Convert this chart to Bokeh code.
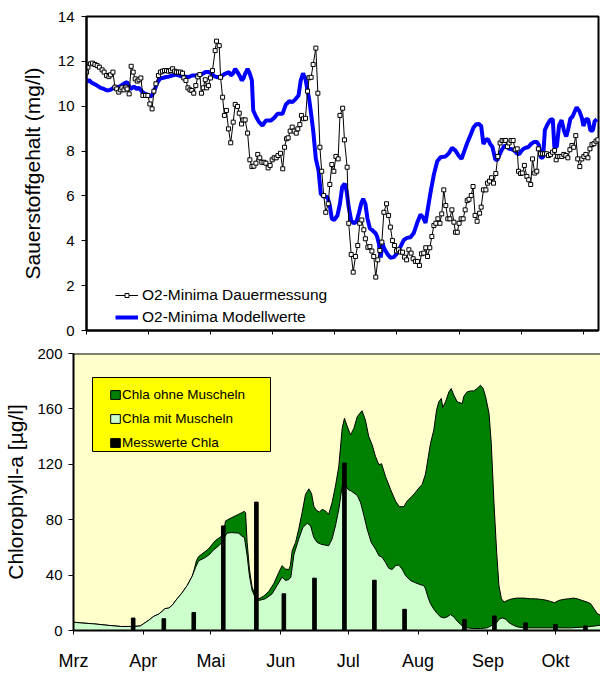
import numpy as np
from bokeh.plotting import figure
from bokeh.layouts import column, row
from bokeh.models import Range1d, FixedTicker, Legend, LegendItem, Span, BoxAnnotation, Spacer
from bokeh.embed import file_html
from bokeh.resources import INLINE

# Zeitachse: Tage ab 1. März
monat_tag = [0, 31, 61, 92, 122, 153, 184, 214]
monat_name = ["Mrz", "Apr", "Mai", "Jun", "Jul", "Aug", "Sep", "Okt"]

# O2-Minima Dauermessung (mg/l)
o2_mess_tag = [
    5.8, 6.4, 7.5, 8.4, 9.5, 10.5, 11.5, 12.7, 13.6, 14.7,
    15.7, 16.4, 17.5, 18.4, 19.2, 20.1, 20.9, 21.5, 22.4, 23.3,
    23.8, 24.7, 25.6, 26.5, 27.4, 28.3, 29.1, 29.9, 30.8, 32.0,
    33.0, 33.9, 34.9, 35.7, 36.6, 37.7, 38.6, 39.5, 40.4, 41.3,
    42.2, 43.1, 44.0, 44.9, 45.7, 46.6, 47.5, 48.4, 49.0, 49.9,
    50.8, 51.7, 52.5, 53.4, 54.3, 55.2, 56.1, 56.8, 57.6, 58.5,
    59.1, 59.9, 60.8, 61.7, 62.9, 63.5, 64.7, 65.3, 66.2, 67.0,
    67.9, 68.8, 69.8, 70.9, 71.8, 72.8, 73.6, 74.6, 75.3, 76.2,
    77.3, 78.3, 79.2, 80.1, 81.0, 81.8, 82.7, 83.6, 84.6, 85.4,
    86.4, 87.3, 88.2, 89.1, 90.0, 90.8, 91.9, 92.9, 93.7, 94.6,
    95.3, 96.2, 97.1, 98.0, 98.9, 99.6, 100.5, 101.2, 102.1, 103.0,
    103.9, 104.6, 105.5, 106.4, 107.6, 108.5, 109.4, 110.2, 111.1, 112.0,
    113.1, 113.8, 114.7, 115.6, 116.5, 117.5, 118.3, 119.5, 120.3, 121.5,
    122.2, 123.3, 124.2, 125.2, 126.2, 127.1, 128.0, 128.9, 129.6, 130.7,
    131.6, 132.5, 133.3, 134.2, 135.1, 136.0, 136.9, 137.8, 139.0, 139.9,
    140.7, 141.6, 142.5, 143.4, 144.3, 145.2, 146.1, 147.0, 147.9, 148.9,
    149.9, 150.8, 151.8, 152.7, 153.6, 154.5, 155.5, 156.4, 157.2, 158.2,
    159.1, 160.0, 160.9, 161.8, 162.7, 163.5, 164.4, 165.3, 166.2, 167.1,
    168.0, 168.9, 169.6, 170.4, 171.2, 172.1, 173.0, 173.9, 174.8, 175.6,
    176.6, 177.4, 178.3, 179.2, 180.3, 181.0, 182.0, 183.1, 183.8, 184.7,
    185.6, 186.5, 187.5, 188.4, 189.4, 190.3, 191.2, 191.9, 192.7, 193.4,
    194.3, 195.2, 196.1, 197.0, 197.6, 198.5, 199.3, 200.2, 201.3, 202.1,
    203.0, 203.8, 204.8, 205.7, 206.4, 207.3, 208.2, 209.1, 210.0, 210.9,
    211.8, 212.7, 213.6, 214.3, 215.0, 215.9, 216.8, 217.7, 218.6, 219.5,
    220.4, 221.3, 222.1, 223.0, 223.9, 224.8, 225.7, 226.6, 227.5, 228.4,
    229.3, 230.2, 231.1, 232.0, 232.8,
]
o2_mess = [
    11.52, 11.74, 11.89, 11.92, 11.86, 11.81, 11.74, 11.62, 11.52, 11.37,
    11.32, 11.40, 11.52, 10.85, 10.77, 10.63, 10.73, 10.82, 10.73, 10.85,
    10.77, 10.55, 11.78, 11.52, 11.22, 11.12, 11.18, 11.26, 10.48, 10.48,
    10.48, 10.10, 9.88, 10.67, 11.00, 11.37, 11.52, 11.56, 11.59, 11.59,
    11.56, 11.59, 11.67, 11.56, 11.52, 11.52, 11.52, 11.47, 11.26, 11.15,
    10.82, 10.73, 10.70, 10.58, 10.92, 11.31, 11.41, 10.58, 10.82, 11.18,
    10.82, 10.92, 11.26, 11.59, 12.48, 12.90, 12.70, 11.29, 10.40, 9.59,
    9.81, 8.99, 8.37, 9.29, 10.08, 9.99, 9.69, 9.21, 9.39, 9.39,
    8.80, 7.61, 7.31, 7.33, 7.46, 7.85, 7.70, 7.50, 7.50, 7.46,
    7.25, 7.36, 7.61, 7.70, 7.70, 7.80, 7.90, 7.21, 8.17, 8.55,
    8.59, 8.89, 9.07, 8.89, 8.80, 8.99, 9.18, 9.59, 9.44, 9.46,
    10.67, 11.27, 11.29, 11.86, 12.59, 10.58, 8.17, 7.10, 6.02, 5.27,
    5.65, 6.51, 7.40, 7.10, 7.76, 7.65, 9.59, 9.91, 8.50, 7.28,
    4.78, 3.39, 2.60, 3.30, 3.79, 4.78, 4.93, 4.49, 4.09, 3.71,
    3.74, 3.54, 3.30, 2.38, 3.15, 3.57, 3.94, 5.27, 5.65, 5.13,
    4.61, 4.01, 3.79, 3.55, 3.60, 3.50, 3.49, 3.27, 3.15, 3.60,
    3.45, 3.20, 3.08, 3.08, 2.90, 3.42, 3.45, 3.69, 3.30, 3.69,
    4.19, 4.68, 4.78, 4.98, 4.78, 5.20, 6.27, 5.57, 4.98, 4.98,
    5.38, 4.83, 4.38, 4.38, 4.78, 4.98, 4.98, 5.38, 5.79, 5.85,
    6.02, 6.42, 5.13, 4.87, 5.23, 5.50, 6.27, 6.27, 6.57, 6.66,
    6.81, 6.57, 7.00, 7.76, 8.36, 8.47, 8.47, 8.47, 8.20, 8.36,
    8.47, 8.47, 8.06, 8.10, 7.10, 7.00, 7.02, 7.36, 6.87, 6.72,
    6.51, 7.65, 7.02, 7.10, 8.10, 7.88, 7.88, 7.88, 7.88, 7.80,
    7.85, 7.95, 8.03, 7.61, 7.76, 7.76, 7.76, 7.85, 7.80, 7.70,
    8.06, 8.25, 8.17, 8.69, 7.65, 7.31, 7.65, 7.76, 7.85, 7.70,
    8.10, 8.29, 8.33, 8.44, 8.50,
]

# O2-Minima Modellwerte (mg/l)
o2_modell_tag = [
    5.8, 6.8, 7.8, 9.0, 10.5, 12.0, 13.5, 14.9, 16.4, 17.9,
    19.4, 20.6, 21.6, 22.6, 23.8, 24.6, 25.3, 26.1, 26.8, 28.0,
    29.0, 30.0, 31.2, 32.7, 34.2, 35.1, 36.0, 37.1, 38.3, 39.4,
    40.8, 42.3, 43.8, 45.3, 46.8, 48.2, 49.7, 51.2, 52.7, 54.2,
    55.6, 57.1, 58.6, 60.1, 61.1, 62.6, 64.0, 65.5, 66.8, 68.0,
    69.1, 69.8, 70.8, 71.8, 72.8, 73.8, 74.7, 75.5, 76.2, 77.3,
    78.3, 79.2, 79.8, 81.0, 82.4, 83.9, 85.4, 87.6, 89.1, 90.6,
    92.8, 94.3, 95.8, 97.2, 98.7, 99.9, 100.9, 101.9, 103.0, 104.6,
    105.6, 106.5, 107.6, 108.8, 109.8, 111.3, 112.8, 113.8, 114.7, 115.7,
    117.2, 118.3, 119.3, 120.4, 121.3, 122.2, 123.3, 124.5, 125.6, 126.7,
    127.7, 128.6, 129.6, 130.5, 131.6, 132.8, 134.1, 134.8, 135.6, 136.4,
    137.2, 137.8, 139.3, 140.7, 142.2, 143.7, 145.2, 146.7, 148.1, 149.6,
    151.1, 152.6, 154.1, 155.2, 156.3, 157.6, 158.6, 160.0, 161.5, 163.0,
    165.2, 166.6, 168.1, 169.6, 171.1, 172.3, 173.5, 174.8, 176.3, 177.6,
    178.8, 180.0, 181.0, 182.0, 183.1, 184.0, 185.0, 186.0, 187.3, 188.2,
    189.2, 190.2, 191.4, 192.4, 193.4, 194.6, 195.8, 196.8, 197.9, 198.8,
    199.8, 200.8, 202.0, 203.2, 204.4, 205.7, 206.6, 207.5, 208.5, 209.3,
    210.5, 211.8, 212.8, 213.5, 214.6, 215.6, 216.7, 217.8, 218.8, 219.6,
    220.6, 221.6, 222.4, 223.4, 224.6, 225.7, 226.4, 227.5, 228.5, 229.5,
    230.6, 231.4, 232.4,
]
o2_modell = [
    11.07, 11.18, 11.07, 11.00, 10.92, 10.82, 10.77, 10.70, 10.73, 10.82,
    10.85, 10.88, 10.95, 11.02, 11.07, 10.92, 10.77, 10.82, 10.88, 10.77,
    10.82, 10.70, 10.58, 10.52, 10.43, 10.52, 10.73, 11.03, 11.22, 11.26,
    11.29, 11.32, 11.37, 11.41, 11.37, 11.32, 11.32, 11.30, 11.37, 11.37,
    11.41, 11.44, 11.52, 11.52, 11.47, 11.33, 11.29, 11.32, 11.42, 11.48,
    11.52, 11.37, 11.45, 11.67, 11.52, 11.35, 11.15, 11.25, 11.44, 11.67,
    11.44, 11.15, 9.81, 9.54, 9.29, 9.14, 9.36, 9.36, 9.48, 9.66,
    9.66, 10.08, 10.22, 10.18, 10.33, 10.48, 11.15, 11.47, 11.22, 10.33,
    9.59, 8.84, 7.65, 7.13, 6.09, 5.97, 5.94, 5.57, 4.98, 4.93,
    5.13, 5.65, 6.40, 6.55, 6.20, 5.50, 4.90, 4.78, 4.85, 5.23,
    5.65, 5.87, 5.65, 5.00, 4.55, 4.46, 4.34, 4.19, 3.87, 3.25,
    3.90, 3.69, 3.42, 3.24, 3.27, 3.45, 3.74, 4.04, 4.13, 4.16,
    4.35, 4.80, 5.17, 5.05, 4.80, 5.60, 6.20, 6.95, 7.55, 7.73,
    7.76, 7.90, 8.14, 8.02, 7.78, 7.65, 8.00, 8.36, 8.72, 9.05,
    9.20, 9.21, 9.12, 8.32, 8.50, 8.54, 8.32, 8.18, 7.62, 7.60,
    7.85, 8.06, 8.25, 8.20, 8.10, 8.08, 8.02, 7.90, 7.86, 8.00,
    8.10, 8.15, 8.18, 8.32, 8.40, 8.41, 8.28, 7.70, 7.72, 8.95,
    9.20, 9.40, 9.42, 8.17, 8.20, 9.15, 9.38, 8.90, 8.65, 8.95,
    9.44, 9.54, 9.73, 9.95, 9.78, 9.48, 9.12, 9.42, 9.42, 8.92,
    8.92, 9.33, 9.42,
]

# Chlorophyll-a Modell mit Muscheln (µg/l)
chla_mit_tag = [
    0.0, 3.1, 9.0, 14.9, 20.9, 26.8, 29.7, 31.2, 33.4, 35.7,
    37.9, 39.4, 40.6, 42.3, 43.8, 46.0, 48.2, 50.5, 52.7, 54.2,
    55.6, 57.9, 60.1, 62.3, 64.5, 65.9, 68.1, 70.3, 73.3, 74.7,
    75.9, 77.1, 78.1, 79.3, 80.8, 82.3, 85.2, 88.2, 90.4, 92.6,
    94.1, 95.6, 96.5, 97.9, 100.0, 101.8, 103.8, 105.3, 106.7, 108.2,
    109.7, 111.9, 113.3, 114.8, 116.3, 117.8, 119.3, 120.4, 121.9, 123.4,
    126.0, 127.5, 129.0, 130.4, 132.2, 134.1, 135.6, 137.1, 138.5, 140.0,
    141.5, 143.0, 144.4, 145.9, 147.4, 149.6, 151.9, 154.1, 155.5, 156.3,
    157.4, 158.5, 160.0, 161.5, 163.0, 164.4, 165.9, 167.4, 168.9, 170.4,
    171.9, 173.3, 174.8, 177.7, 180.7, 183.7, 185.9, 187.9, 188.9, 190.4,
    192.0, 193.3, 195.3, 197.1, 200.0, 213.3, 220.7, 228.1, 234.0,
]
chla_mit = [
    6.0, 5.5, 4.8, 3.8, 2.9, 2.9, 3.3, 5.0, 7.4, 10.3,
    11.9, 13.9, 15.8, 16.2, 18.2, 22.9, 27.2, 32.5, 39.2, 45.6,
    50.4, 52.1, 54.5, 58.3, 61.2, 63.6, 70.3, 70.7, 70.3, 68.3,
    67.1, 54.0, 39.7, 28.9, 23.4, 21.7, 22.9, 26.5, 32.5, 38.5,
    36.1, 36.8, 38.5, 55.0, 66.0, 74.3, 77.4, 75.5, 67.1, 63.6,
    62.4, 61.6, 61.2, 66.0, 75.5, 87.5, 104.2, 106.6, 101.8, 100.6,
    97.5, 92.2, 82.7, 73.1, 63.6, 58.8, 54.0, 52.8, 49.2, 44.9,
    44.0, 46.8, 47.3, 44.4, 39.7, 36.1, 34.4, 33.0, 32.5, 30.1,
    24.1, 19.4, 15.3, 12.2, 9.8, 9.1, 9.8, 11.5, 9.8, 6.7,
    4.3, 2.6, 1.9, 1.4, 1.4, 1.9, 3.8, 5.7, 8.1, 9.1,
    8.1, 5.7, 3.8, 2.6, 1.9, 1.9, 1.9, 2.6, 3.8,
]

# Chlorophyll-a Modell ohne Muscheln (µg/l)
chla_ohne_tag = [
    0.0, 3.1, 9.0, 14.9, 20.9, 26.8, 29.7, 31.2, 33.4, 35.7,
    37.9, 39.4, 40.6, 42.3, 43.8, 46.0, 48.2, 50.5, 52.7, 53.6,
    54.6, 55.6, 57.0, 59.9, 62.9, 65.9, 66.8, 67.5, 70.3, 73.3,
    74.7, 75.9, 76.4, 77.1, 78.1, 79.3, 80.8, 82.3, 84.5, 86.7,
    88.9, 91.2, 92.6, 94.1, 95.6, 96.3, 97.1, 98.6, 100.0, 101.5,
    103.0, 104.5, 105.7, 106.7, 107.8, 109.2, 110.4, 111.9, 113.3, 114.8,
    116.3, 117.8, 119.3, 120.3, 121.5, 123.0, 124.5, 126.0, 128.1, 129.6,
    131.1, 132.6, 134.1, 135.6, 136.8, 138.5, 140.8, 143.0, 144.7, 146.7,
    148.1, 150.4, 151.9, 153.4, 154.8, 156.3, 157.5, 158.5, 160.0, 161.2,
    162.2, 163.3, 164.0, 165.2, 166.7, 167.7, 168.9, 170.4, 172.6, 173.3,
    174.8, 176.3, 177.7, 179.2, 180.7, 181.9, 183.0, 184.5, 185.5, 186.7,
    187.9, 188.9, 190.0, 191.2, 192.6, 194.8, 197.1, 200.0, 203.0, 205.2,
    207.4, 209.6, 211.8, 213.6, 215.5, 217.7, 219.9, 222.2, 223.7, 225.9,
    228.1, 229.6, 231.1, 232.6, 234.0,
]
chla_ohne = [
    6.0, 5.5, 4.8, 3.8, 2.9, 2.9, 3.3, 5.0, 7.4, 10.3,
    11.9, 13.9, 15.8, 16.2, 18.2, 22.9, 27.2, 32.5, 39.2, 44.0,
    50.5, 53.5, 55.2, 58.8, 64.8, 68.3, 72.0, 79.1, 81.5, 83.9,
    85.1, 86.0, 85.1, 63.6, 44.4, 31.3, 25.3, 22.9, 24.9, 28.2,
    33.7, 42.1, 46.8, 44.4, 44.0, 46.8, 57.6, 63.6, 73.1, 85.1,
    98.2, 102.3, 98.9, 89.8, 87.0, 85.5, 87.5, 86.3, 83.9, 92.2,
    104.2, 118.5, 146.0, 153.2, 147.7, 141.2, 146.0, 154.4, 158.7, 152.0,
    140.0, 134.1, 125.7, 119.7, 120.4, 111.4, 101.8, 93.4, 89.4, 89.4,
    93.4, 97.0, 99.9, 103.0, 105.4, 113.0, 125.0, 135.0, 144.8, 159.1,
    165.1, 167.5, 161.1, 165.1, 172.3, 174.7, 169.9, 165.1, 163.9, 169.0,
    172.3, 173.0, 173.0, 174.7, 177.1, 174.7, 168.7, 156.8, 135.2, 92.2,
    56.4, 32.5, 22.9, 20.5, 21.7, 22.9, 23.4, 23.4, 22.9, 22.9,
    22.5, 22.0, 21.0, 20.1, 21.7, 22.5, 22.9, 23.4, 22.9, 21.7,
    20.5, 19.4, 15.8, 12.2, 11.0,
]

# Messwerte Chlorophyll-a (µg/l)
mess_tag = [26.5, 40.1, 53.4, 66.5, 81.2, 93.4, 107.0, 120.3, 133.6, 147.0,
            173.6, 186.9, 200.7, 214.0, 227.3]
mess_chla = [9.0, 8.5, 13.0, 75.5, 92.7, 26.5, 37.8, 120.9, 36.3, 15.3,
             7.9, 10.5, 5.5, 4.3, 3.3]

FONT = "Liberation Sans"


def style_axes(p):
    for ax in p.axis:
        ax.axis_line_width = 2
        ax.axis_line_color = "black"
        ax.major_tick_line_color = "black"
        ax.major_tick_line_width = 1
        ax.major_tick_in = 0
        ax.major_tick_out = 5
        ax.minor_tick_line_color = None
        ax.major_label_text_font = FONT
        ax.major_label_text_color = "black"
        ax.axis_label_text_font = FONT
        ax.axis_label_text_font_style = "normal"
        ax.axis_label_text_color = "black"
    p.xgrid.grid_line_color = None
    p.ygrid.grid_line_color = None


# ---------- oberes Diagramm: Sauerstoff ----------
top = figure(width=587, height=340, output_backend="svg", toolbar_location=None,
             x_range=Range1d(5.77, 233.1), y_range=Range1d(0, 14),
             min_border_left=73, min_border_right=2, min_border_top=16,
             min_border_bottom=10, outline_line_color="black",
             outline_line_width=2, outline_line_alpha=1)
style_axes(top)

top_ticks = [round(5.77 + 27.57 * k, 2) for k in range(9)]
top.xaxis.ticker = FixedTicker(ticks=top_ticks)
top.xaxis.major_label_overrides = {t: "" for t in top_ticks}
top.xaxis.major_label_text_font_size = "1px"
top.xaxis.major_tick_out = 4
top.xaxis.major_label_standoff = 0

top.yaxis.ticker = FixedTicker(ticks=list(range(0, 15, 2)))
top.yaxis.major_label_text_font_size = "15px"
top.yaxis.major_label_standoff = 7
top.yaxis.axis_label = "Sauerstoffgehalt (mg/l)"
top.yaxis.axis_label_text_font_size = "21px"
top.yaxis.axis_label_standoff = 11

r_modell = top.line(o2_modell_tag, o2_modell, line_color="#0000FF", line_width=4)
r_mess_l = top.line(o2_mess_tag, o2_mess, line_color="black", line_width=1)
r_mess_p = top.scatter(o2_mess_tag, o2_mess, marker="square", size=4,
                       fill_color="white", line_color="black", line_width=1)

leg_top = Legend(items=[
    LegendItem(label="O2-Minima Dauermessung", renderers=[r_mess_l, r_mess_p]),
    LegendItem(label="O2-Minima Modellwerte", renderers=[r_modell]),
], location=(29, 3), padding=0, spacing=2, glyph_width=23, glyph_height=10,
   label_height=20, label_standoff=4, label_text_font=FONT,
   label_text_font_size="15.5px", label_text_color="black",
   background_fill_alpha=0, border_line_color=None)
top.add_layout(leg_top, "center")

# ---------- unteres Diagramm: Chlorophyll-a ----------
bot = figure(width=600, height=333, output_backend="svg", toolbar_location=None,
             x_range=Range1d(0, 234), y_range=Range1d(0, 200),
             min_border_left=73, min_border_right=0, min_border_top=13,
             min_border_bottom=41, background_fill_color="#FFFFCC",
             outline_line_color=None)
style_axes(bot)

bot.xaxis.ticker = FixedTicker(ticks=monat_tag)
bot.xaxis.major_label_overrides = dict(zip(monat_tag, monat_name))
bot.xaxis.major_label_text_font_size = "18px"
bot.xaxis.major_label_standoff = 16
bot.xaxis.major_tick_out = 4

bot.yaxis.ticker = FixedTicker(ticks=list(range(0, 201, 40)))
bot.yaxis.major_label_text_font_size = "15px"
bot.yaxis.major_label_standoff = 6
bot.yaxis.axis_label = "Chlorophyll-a [µg/l]"
bot.yaxis.axis_label_text_font_size = "21px"
bot.yaxis.axis_label_standoff = 7


def flaeche(tag, wert):
    tag = np.asarray(tag, dtype=float)
    wert = np.asarray(wert, dtype=float)
    return np.concatenate([tag, tag[::-1]]), np.concatenate([wert, np.zeros_like(wert)])


xo, yo = flaeche(chla_ohne_tag, chla_ohne)
r_ohne = bot.patch(xo, yo, fill_color="#008000", line_color="black", line_width=1)
xm, ym = flaeche(chla_mit_tag, chla_mit)
r_mit = bot.patch(xm, ym, fill_color="#CCFFCC", line_color="black", line_width=1)
r_mess = bot.vbar(x=mess_tag, top=mess_chla, width=1.6, fill_color="black",
                  line_color="black")

bot.add_layout(Span(location=200, dimension="width", line_color="black", line_width=2))

legend_box = BoxAnnotation(left=19, right=197, bottom=179, top=253,
                           left_units="screen", right_units="screen",
                           bottom_units="screen", top_units="screen",
                           fill_color="#FFFF00", fill_alpha=1,
                           line_color="black", line_alpha=1, line_width=1)
bot.add_layout(legend_box)

leg_bot = Legend(items=[
    LegendItem(label="Chla ohne Muscheln", renderers=[r_ohne]),
    LegendItem(label="Chla mit Muscheln", renderers=[r_mit]),
    LegendItem(label="Messwerte Chla", renderers=[r_mess]),
], location=(36, 178), padding=0, spacing=4, glyph_width=12, glyph_height=11,
   label_height=20, label_standoff=1, label_text_font=FONT,
   label_text_font_size="13.5px", label_text_color="black",
   background_fill_alpha=0, border_line_color=None)
bot.add_layout(leg_bot, "center")

layout = column(row(Spacer(width=13, height=340), top), bot)
open("out.html", "w").write(file_html(layout, INLINE))
